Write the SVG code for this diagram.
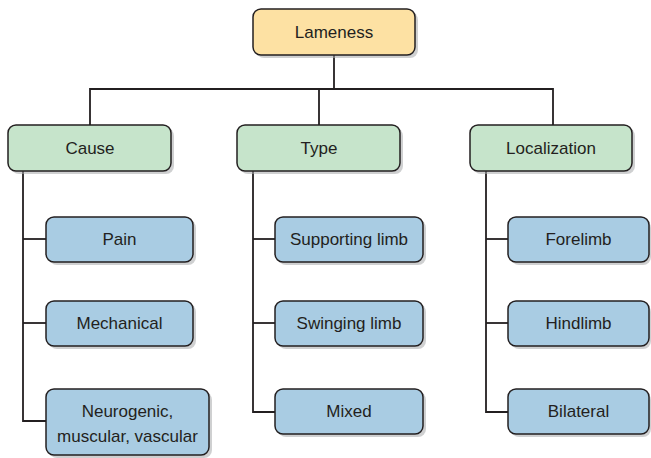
<svg xmlns="http://www.w3.org/2000/svg" width="651" height="458" viewBox="0 0 651 458">
  <style>
    .box { stroke: #231f20; stroke-width: 1.5; }
    .shadow { fill: #a7a9ac; opacity: 0.55; }
    .root { fill: #fde1a3; }
    .cat { fill: #c6e4cb; }
    .leaf { fill: #a9cce3; }
    .lbl { font-family: "Liberation Sans", Arial, sans-serif; font-size: 17px; fill: #231f20; text-anchor: middle; }
    .wire { fill: none; stroke: #231f20; stroke-width: 1.8; }
  </style>
  <rect width="651" height="458" fill="#ffffff"/>

  <!-- connectors -->
  <g id="connectors" class="wire">
    <path d="M334 55 V89"/>
    <path d="M90 125 V89 H553 V125"/>
    <path d="M319 89 V125"/>
    <path d="M23 171 V421 H46"/>
    <path d="M23 239 H46"/>
    <path d="M23 323 H46"/>
    <path d="M253 171 V412 H275"/>
    <path d="M253 239 H275"/>
    <path d="M253 323 H275"/>
    <path d="M486 171 V412 H508"/>
    <path d="M486 239 H508"/>
    <path d="M486 323 H508"/>
  </g>

  <!-- root -->
  <g id="lameness">
    <rect class="shadow" x="256" y="12" width="162" height="46" rx="8"/>
    <rect class="box root" x="253" y="9" width="162" height="46" rx="8"/>
    <text class="lbl" x="334" y="38">Lameness</text>
  </g>

  <!-- categories -->
  <g id="cause">
    <rect class="shadow" x="11" y="128" width="163" height="46" rx="8"/>
    <rect class="box cat" x="8" y="125" width="163" height="46" rx="8"/>
    <text class="lbl" x="90" y="154">Cause</text>
  </g>
  <g id="type">
    <rect class="shadow" x="240" y="128" width="163" height="46" rx="8"/>
    <rect class="box cat" x="237" y="125" width="163" height="46" rx="8"/>
    <text class="lbl" x="319" y="154">Type</text>
  </g>
  <g id="localization">
    <rect class="shadow" x="473" y="128" width="162" height="46" rx="8"/>
    <rect class="box cat" x="470" y="125" width="162" height="46" rx="8"/>
    <text class="lbl" x="551" y="154">Localization</text>
  </g>

  <!-- cause leaves -->
  <g id="pain">
    <rect class="shadow" x="49" y="220" width="147" height="45" rx="8"/>
    <rect class="box leaf" x="46" y="217" width="147" height="45" rx="8"/>
    <text class="lbl" x="119.5" y="245">Pain</text>
  </g>
  <g id="mechanical">
    <rect class="shadow" x="49" y="304" width="147" height="45" rx="8"/>
    <rect class="box leaf" x="46" y="301" width="147" height="45" rx="8"/>
    <text class="lbl" x="119.5" y="329">Mechanical</text>
  </g>
  <g id="neurogenic">
    <rect class="shadow" x="49" y="392" width="163" height="66" rx="8"/>
    <rect class="box leaf" x="46" y="389" width="163" height="66" rx="8"/>
    <text class="lbl" x="127.5" y="417">Neurogenic,</text>
    <text class="lbl" x="127.5" y="442">muscular, vascular</text>
  </g>

  <!-- type leaves -->
  <g id="supporting-limb">
    <rect class="shadow" x="278" y="220" width="148" height="45" rx="8"/>
    <rect class="box leaf" x="275" y="217" width="148" height="45" rx="8"/>
    <text class="lbl" x="349" y="245">Supporting limb</text>
  </g>
  <g id="swinging-limb">
    <rect class="shadow" x="278" y="304" width="148" height="45" rx="8"/>
    <rect class="box leaf" x="275" y="301" width="148" height="45" rx="8"/>
    <text class="lbl" x="349" y="329">Swinging limb</text>
  </g>
  <g id="mixed">
    <rect class="shadow" x="278" y="392" width="148" height="45" rx="8"/>
    <rect class="box leaf" x="275" y="389" width="148" height="45" rx="8"/>
    <text class="lbl" x="349" y="417">Mixed</text>
  </g>

  <!-- localization leaves -->
  <g id="forelimb">
    <rect class="shadow" x="511" y="220" width="140" height="45" rx="8"/>
    <rect class="box leaf" x="508" y="217" width="141" height="45" rx="8"/>
    <text class="lbl" x="578.5" y="245">Forelimb</text>
  </g>
  <g id="hindlimb">
    <rect class="shadow" x="511" y="304" width="140" height="45" rx="8"/>
    <rect class="box leaf" x="508" y="301" width="141" height="45" rx="8"/>
    <text class="lbl" x="578.5" y="329">Hindlimb</text>
  </g>
  <g id="bilateral">
    <rect class="shadow" x="511" y="392" width="140" height="45" rx="8"/>
    <rect class="box leaf" x="508" y="389" width="141" height="45" rx="8"/>
    <text class="lbl" x="578.5" y="417">Bilateral</text>
  </g>
</svg>
